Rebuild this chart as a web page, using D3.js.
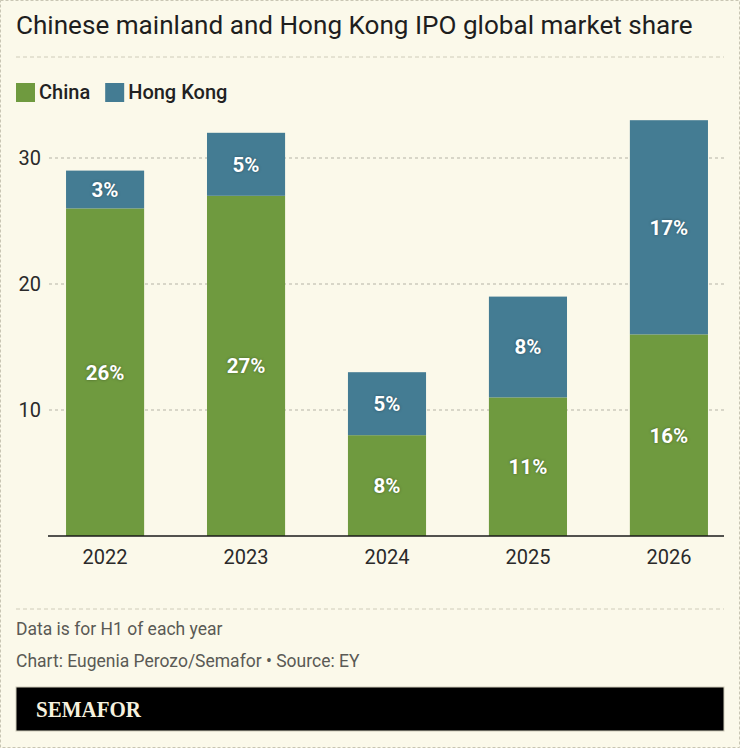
<!DOCTYPE html>
<html>
<head>
<meta charset="utf-8">
<script src="https://cdn.jsdelivr.net/npm/d3@7"></script>
<style>
  html, body { margin: 0; padding: 0; background: #fbf9ea; }
</style>
</head>
<body>
<div id="chart"></div>
<script>
// Données
const years = ["2022", "2023", "2024", "2025", "2026"];
const china = [26, 27, 8, 11, 16];
const hongKong = [3, 5, 5, 8, 17];
const seriesNames = ["China", "Hong Kong"];
const yTicks = [10, 20, 30];

const width = 740;
const height = 748;
const colors = { "China": "#6f9a3f", "Hong Kong": "#447c93" };
const sans = "Roboto, 'Noto Sans', sans-serif";

const svg = d3.select("#chart").append("svg")
    .attr("width", width)
    .attr("height", height)
    .style("display", "block");

// Fond et bordure en pointillés
svg.append("rect")
    .attr("x", 0.5).attr("y", 0.5)
    .attr("width", width - 1).attr("height", height - 1)
    .attr("fill", "#fbf9ea")
    .attr("stroke", "#c9c6b4")
    .attr("stroke-dasharray", "3,2");

// Titre
const title = svg.append("text")
    .attr("x", 16).attr("y", 34)
    .attr("font-family", sans)
    .attr("font-size", 25)
    .attr("fill", "#1e1e1e")
    .text("Chinese mainland and Hong Kong IPO global market share");
// ajuster à la largeur de la référence
const tw = title.node().getComputedTextLength();
title.attr("font-size", 25 * 677 / tw);

// Séparateurs
[57, 609].forEach(y => {
    svg.append("line")
        .attr("x1", 16).attr("x2", 724)
        .attr("y1", y).attr("y2", y)
        .attr("stroke", "#cfccba")
        .attr("stroke-dasharray", "4,3");
});

// Légende
const legend = svg.append("g");
let lx = 16;
seriesNames.forEach(name => {
    legend.append("rect")
        .attr("x", lx).attr("y", 83)
        .attr("width", 19).attr("height", 19)
        .attr("fill", colors[name]);
    const t = legend.append("text")
        .attr("x", lx + 23).attr("y", 99)
        .attr("font-family", sans)
        .attr("font-size", 20)
        .attr("font-weight", 500)
        .attr("fill", "#222")
        .text(name);
    lx += 23 + t.node().getComputedTextLength() + 15;
});

// Échelles
const x = d3.scaleBand()
    .domain(years)
    .range([34.6, 739.4])
    .paddingInner(0.446)
    .paddingOuter(0.223);

const y = d3.scaleLinear()
    .domain([0, 30])
    .range([536, 158]);

// Grille horizontale
const grid = svg.append("g");
grid.selectAll("line")
    .data(yTicks)
    .enter().append("line")
    .attr("x1", 49).attr("x2", 724)
    .attr("y1", d => y(d)).attr("y2", d => y(d))
    .attr("stroke", "#b5b3a6")
    .attr("stroke-dasharray", "3,3");

// Axe Y
const yAxis = svg.append("g")
    .attr("transform", "translate(41,0)")
    .call(d3.axisLeft(y).tickValues(yTicks).tickSize(0).tickPadding(0));
yAxis.select(".domain").remove();
yAxis.selectAll("text")
    .attr("font-family", sans)
    .attr("font-size", 20)
    .attr("fill", "#2a2a2a");

// Empilement
const table = years.map((yr, i) => ({ year: yr, "China": china[i], "Hong Kong": hongKong[i] }));
const stacked = d3.stack().keys(seriesNames)(table);

const layers = svg.append("g")
    .selectAll("g")
    .data(stacked)
    .enter().append("g")
    .attr("fill", d => colors[d.key]);

layers.selectAll("rect")
    .data(d => d)
    .enter().append("rect")
    .attr("x", d => x(d.data.year))
    .attr("width", x.bandwidth())
    .attr("y", d => y(d[1]))
    .attr("height", d => y(d[0]) - y(d[1]));

// Étiquettes des valeurs
layers.selectAll("text")
    .data(d => d.map(v => ({ v, key: d.key })))
    .enter().append("text")
    .attr("x", d => x(d.v.data.year) + x.bandwidth() / 2)
    .attr("y", d => (y(d.v[0]) + y(d.v[1])) / 2)
    .attr("dy", "0.36em")
    .attr("text-anchor", "middle")
    .attr("font-family", sans)
    .attr("font-size", 20.5)
    .attr("font-weight", "bold")
    .attr("fill", "#fff")
    .style("text-shadow", "0 0 3px rgba(0,0,0,0.35)")
    .text(d => (d.v[1] - d.v[0]) + "%");

// Axe X
const xAxis = svg.append("g")
    .attr("transform", "translate(0,536)")
    .call(d3.axisBottom(x).tickSize(0).tickPadding(14));
xAxis.select(".domain")
    .attr("d", "M48,0H724")
    .attr("stroke", "#1a1a1a")
    .attr("stroke-width", 1.5);
xAxis.selectAll("text")
    .attr("font-family", sans)
    .attr("font-size", 20)
    .attr("fill", "#2a2a2a");

// Notes
svg.append("text")
    .attr("x", 16).attr("y", 635)
    .attr("font-family", sans)
    .attr("font-size", 17.5)
    .attr("fill", "#5a5a55")
    .text("Data is for H1 of each year");

svg.append("text")
    .attr("x", 16).attr("y", 667)
    .attr("font-family", sans)
    .attr("font-size", 17.5)
    .attr("fill", "#5a5a55")
    .text("Chart: Eugenia Perozo/Semafor \u2022 Source: EY");

// Bandeau Semafor
svg.append("rect")
    .attr("x", 16).attr("y", 687)
    .attr("width", 708).attr("height", 44)
    .attr("fill", "#000")
    .attr("stroke", "#cfccba");

svg.append("text")
    .attr("x", 36).attr("y", 717)
    .attr("font-family", "'Liberation Serif', 'DejaVu Serif', serif")
    .attr("font-size", 23)
    .attr("font-weight", "bold")
    .attr("fill", "#f6f1df")
    .attr("textLength", 105)
    .attr("lengthAdjust", "spacingAndGlyphs")
    .text("SEMAFOR");
</script>
</body>
</html>
